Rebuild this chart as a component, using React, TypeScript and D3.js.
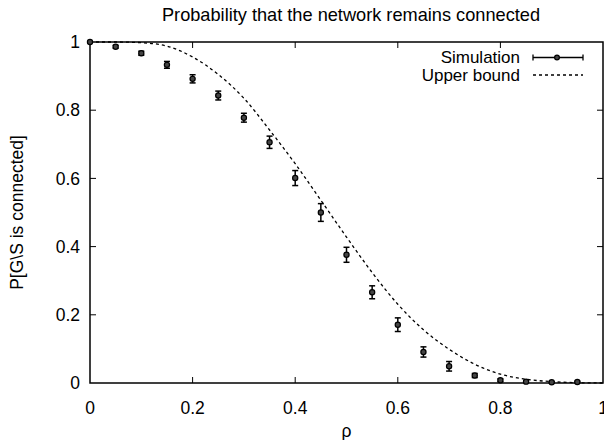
import React from "react";
import * as d3 from "d3";

const rho = [0, 0.05, 0.1, 0.15, 0.2, 0.25, 0.3, 0.35, 0.4, 0.45, 0.5, 0.55, 0.6, 0.65, 0.7, 0.75, 0.8, 0.85, 0.9, 0.95];
const simValues = [1.0, 0.986, 0.967, 0.933, 0.892, 0.843, 0.778, 0.706, 0.601, 0.5, 0.376, 0.266, 0.171, 0.091, 0.049, 0.022, 0.008, 0.004, 0.002, 0.003];
const simErrors = [0, 0.004, 0.006, 0.01, 0.012, 0.013, 0.013, 0.018, 0.022, 0.026, 0.022, 0.019, 0.02, 0.015, 0.014, 0.006, 0.004, 0.002, 0.002, 0.002];

const boundRho = [0, 0.05, 0.1, 0.15, 0.2, 0.25, 0.3, 0.35, 0.4, 0.45, 0.5, 0.55, 0.6, 0.65, 0.7, 0.75, 0.8, 0.85, 0.9, 0.95, 1.0];
const boundValues = [1.0, 1.0, 0.998, 0.988, 0.956, 0.905, 0.835, 0.742, 0.643, 0.536, 0.428, 0.324, 0.231, 0.156, 0.099, 0.055, 0.026, 0.011, 0.004, 0.001, 0];

const xTicks = [0, 0.2, 0.4, 0.6, 0.8, 1];
const yTicks = [0, 0.2, 0.4, 0.6, 0.8, 1];

const title = "Probability that the network remains connected";
const xLabel = "ρ";
const yLabel = "P[G\\S is connected]";
const legendLabels = ["Simulation", "Upper bound"];

const W = 604;
const H = 440;
const M = { left: 90, right: 603, top: 42, bottom: 383 };
const FONT = "'Liberation Sans', Arial, Helvetica, sans-serif";
const FS = 17.5;

export default function App() {
  const x = d3.scaleLinear().domain([0, 1]).range([M.left, M.right]);
  const y = d3.scaleLinear().domain([0, 1]).range([M.bottom, M.top]);
  const line = d3
    .line<number>()
    .x((_, i) => x(boundRho[i]))
    .y((d) => y(d))
    .curve(d3.curveMonotoneX);
  const tickLen = 6;
  const cap = 3;

  return (
    <svg
      width={W}
      height={H}
      style={{ position: "absolute", left: 0, top: 0, background: "#fff" }}
      fontFamily={FONT}
    >
      <rect x={0} y={0} width={W} height={H} fill="#fff" />
      {/* title */}
      <text x={351} y={21} textAnchor="middle" fontSize={18.2} fill="#000">
        {title}
      </text>
      {/* ticks */}
      {xTicks.map((t) => (
        <g key={"xt" + t}>
          {t > 0 && t < 1 && (
            <>
              <line x1={x(t)} x2={x(t)} y1={M.bottom} y2={M.bottom - tickLen} stroke="#000" strokeWidth={1} />
              <line x1={x(t)} x2={x(t)} y1={M.top} y2={M.top + tickLen} stroke="#000" strokeWidth={1} />
            </>
          )}
          <text x={x(t)} y={414} textAnchor="middle" fontSize={FS} fill="#000">
            {d3.format("~g")(t)}
          </text>
        </g>
      ))}
      {yTicks.map((t) => (
        <g key={"yt" + t}>
          {t > 0 && t < 1 && (
            <>
              <line x1={M.left} x2={M.left + tickLen} y1={y(t)} y2={y(t)} stroke="#000" strokeWidth={1} />
              <line x1={M.right} x2={M.right - tickLen} y1={y(t)} y2={y(t)} stroke="#000" strokeWidth={1} />
            </>
          )}
          <text x={80} y={y(t)} dy="0.35em" textAnchor="end" fontSize={FS} fill="#000">
            {d3.format("~g")(t)}
          </text>
        </g>
      ))}
      {/* frame */}
      <rect
        x={M.left}
        y={M.top}
        width={M.right - M.left}
        height={M.bottom - M.top}
        fill="none"
        stroke="#000"
        strokeWidth={1.5}
      />
      {/* axis labels */}
      <text x={x(0.5)} y={437} textAnchor="middle" fontSize={FS} fill="#000">
        {xLabel}
      </text>
      <text
        transform={`translate(23, ${(M.top + M.bottom) / 2}) rotate(-90)`}
        textAnchor="middle"
        fontSize={FS}
        fill="#000"
      >
        {yLabel}
      </text>
      {/* upper bound */}
      <path d={line(boundValues) || ""} fill="none" stroke="#000" strokeWidth={1.3} strokeDasharray="3,3" />
      {/* simulation */}
      {rho.map((r, i) => {
        const cx = x(r);
        const cy = y(simValues[i]);
        const e = simErrors[i];
        return (
          <g key={"s" + i}>
            {e > 0 && (
              <>
                <line x1={cx} x2={cx} y1={y(simValues[i] + e)} y2={y(simValues[i] - e)} stroke="#000" strokeWidth={1.5} />
                <line x1={cx - cap} x2={cx + cap} y1={y(simValues[i] + e)} y2={y(simValues[i] + e)} stroke="#000" strokeWidth={1.5} />
                <line x1={cx - cap} x2={cx + cap} y1={y(simValues[i] - e)} y2={y(simValues[i] - e)} stroke="#000" strokeWidth={1.5} />
              </>
            )}
            <circle cx={cx} cy={cy} r={2.6} fill="#444" stroke="#000" strokeWidth={1.2} />
          </g>
        );
      })}
      {/* legend */}
      <text x={520} y={57} dy="0.35em" textAnchor="end" fontSize={17} fill="#000">
        {legendLabels[0]}
      </text>
      <line x1={533} x2={583} y1={57.5} y2={57.5} stroke="#000" strokeWidth={1.3} />
      <line x1={533} x2={533} y1={54.5} y2={60.5} stroke="#000" strokeWidth={1.3} />
      <line x1={583} x2={583} y1={54.5} y2={60.5} stroke="#000" strokeWidth={1.3} />
      <circle cx={557} cy={57.5} r={2.4} fill="#444" stroke="#000" strokeWidth={1.2} />
      <text x={520} y={75} dy="0.35em" textAnchor="end" fontSize={17} fill="#000">
        {legendLabels[1]}
      </text>
      <line x1={533} x2={583} y1={75} y2={75} stroke="#000" strokeWidth={1.3} strokeDasharray="3,3" />
    </svg>
  );
}
